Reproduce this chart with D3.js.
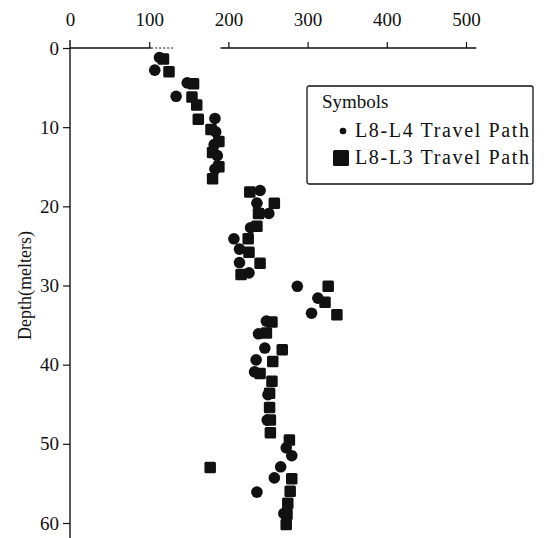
<!DOCTYPE html>
<html>
<head>
<meta charset="utf-8">
<script src="https://cdn.jsdelivr.net/npm/d3@7"></script>
<style>
  html, body { margin: 0; padding: 0; background: #fff; }
  svg { display: block; }
  text { font-family: "Liberation Serif", "DejaVu Serif", serif; fill: #111; }
</style>
</head>
<body>
<svg id="chart" width="549" height="538"></svg>
<script>
// Travel speed (top axis) versus depth in metres (left axis, increasing downwards)
const xTicks = [0, 100, 200, 300, 400, 500];
const depthTicks = [0, 10, 20, 30, 40, 50, 60];

// L8-L4 travel path: [value, depth]
const pathL8L4 = [
  [113, 1.2], [107, 2.8], [148, 4.4], [134, 6.1], [183, 8.9], [184, 10.6],
  [182, 12.2], [186, 13.6], [183, 15.3],
  [240, 18.0], [236, 19.6], [251, 20.9], [228, 22.7], [207, 24.1], [214, 25.4],
  [214, 27.1], [226, 28.4],
  [287, 30.1], [313, 31.6], [305, 33.5],
  [248, 34.5], [238, 36.1], [246, 37.9], [235, 39.4], [233, 40.9], [250, 43.8],
  [249, 47.0], [273, 50.5], [280, 51.5], [266, 52.9], [258, 54.3], [236, 56.1],
  [270, 58.8]
];

// L8-L3 travel path: [value, depth]
const pathL8L3 = [
  [118, 1.4], [125, 3.0], [156, 4.5], [154, 6.2], [160, 7.2], [162, 9.0],
  [178, 10.3], [188, 11.8], [180, 13.2], [188, 15.0], [180, 16.5],
  [227, 18.2], [258, 19.6], [238, 20.9], [236, 22.5], [225, 24.1], [226, 25.8],
  [240, 27.2], [216, 28.6],
  [326, 30.1], [322, 32.1], [337, 33.7],
  [255, 34.6], [248, 36.0], [268, 38.1], [256, 39.6], [240, 41.1], [255, 42.1],
  [252, 43.6], [252, 45.4], [253, 47.0], [253, 48.6],
  [277, 49.5], [177, 53.0], [280, 54.4], [278, 56.0], [275, 57.5], [274, 58.9],
  [273, 60.2]
];

const legendLabels = ["L8-L4 Travel Path", "L8-L3 Travel Path"];

const svg = d3.select("#chart");
const x = d3.scaleLinear().domain([0, 500]).range([70, 466]);
const y = d3.scaleLinear().domain([0, 60]).range([48, 523]);

const ink = "#111";

// Top axis
const topAxis = d3.axisTop(x).tickValues(xTicks).tickSize(6).tickPadding(16)
  .tickFormat(d3.format("d"));
const gTop = svg.append("g").attr("transform", `translate(0,${y(0)})`).call(topAxis);
gTop.select(".domain").remove();
gTop.selectAll(".tick line").attr("stroke", ink).attr("stroke-width", 1.2)
  .filter(d => d === 0).remove();
gTop.selectAll(".tick text").attr("font-size", 19)
  .style("font-family", "Liberation Serif, serif").attr("fill", ink);
// horizontal axis line, with its broken stretch between 100 and 200
svg.append("line")
  .attr("x1", x(0)).attr("x2", x(100) + 2).attr("y1", y(0)).attr("y2", y(0))
  .attr("stroke", ink).attr("stroke-width", 1.3);
svg.append("line")
  .attr("x1", x(100) + 2).attr("x2", x(130)).attr("y1", y(0)).attr("y2", y(0))
  .attr("stroke", ink).attr("stroke-width", 1).attr("stroke-dasharray", "2 2");
svg.append("line")
  .attr("x1", x(190)).attr("x2", x(513)).attr("y1", y(0)).attr("y2", y(0))
  .attr("stroke", ink).attr("stroke-width", 1.3);

// Left axis
const leftAxis = d3.axisLeft(y).tickValues(depthTicks).tickSize(7).tickPadding(4)
  .tickFormat(d3.format("d"));
const gLeft = svg.append("g").attr("transform", `translate(${x(0)},0)`).call(leftAxis);
gLeft.select(".domain").remove();
gLeft.selectAll(".tick line").attr("stroke", ink).attr("stroke-width", 1.2);
gLeft.selectAll(".tick text").attr("font-size", 19)
  .style("font-family", "Liberation Serif, serif").attr("fill", ink);
svg.append("line")
  .attr("x1", x(0)).attr("x2", x(0)).attr("y1", y(0) - 8).attr("y2", 538)
  .attr("stroke", ink).attr("stroke-width", 1.4);

// Axis title
svg.append("text")
  .attr("transform", `translate(31,${y(30)}) rotate(-90)`)
  .attr("text-anchor", "middle")
  .attr("font-size", 18)
  .text("Depth(melters)");

// Markers
const r = 5.8, side = 11.5;
svg.append("g").selectAll("circle").data(pathL8L4).join("circle")
  .attr("cx", d => x(d[0])).attr("cy", d => y(d[1])).attr("r", r)
  .attr("fill", ink);
svg.append("g").selectAll("rect").data(pathL8L3).join("rect")
  .attr("x", d => x(d[0]) - side / 2).attr("y", d => y(d[1]) - side / 2)
  .attr("width", side).attr("height", side).attr("rx", 1.5)
  .attr("fill", ink);

// Legend
const lg = svg.append("g").attr("transform", "translate(307,86)");
lg.append("rect").attr("x", 0).attr("y", 0).attr("width", 226).attr("height", 98)
  .attr("fill", "#fff").attr("stroke", ink).attr("stroke-width", 1.3).attr("rx", 2);
lg.append("text").attr("x", 15).attr("y", 22).attr("font-size", 19).text("Symbols");
lg.append("circle").attr("cx", 36).attr("cy", 45).attr("r", 3.3).attr("fill", ink);
lg.append("text").attr("x", 48).attr("y", 51).attr("font-size", 20)
  .attr("textLength", 174).attr("lengthAdjust", "spacing").text(legendLabels[0]);
lg.append("rect").attr("x", 26).attr("y", 64).attr("width", 16).attr("height", 16)
  .attr("rx", 1.5).attr("fill", ink);
lg.append("text").attr("x", 48).attr("y", 78).attr("font-size", 20)
  .attr("textLength", 174).attr("lengthAdjust", "spacing").text(legendLabels[1]);
</script>
</body>
</html>
